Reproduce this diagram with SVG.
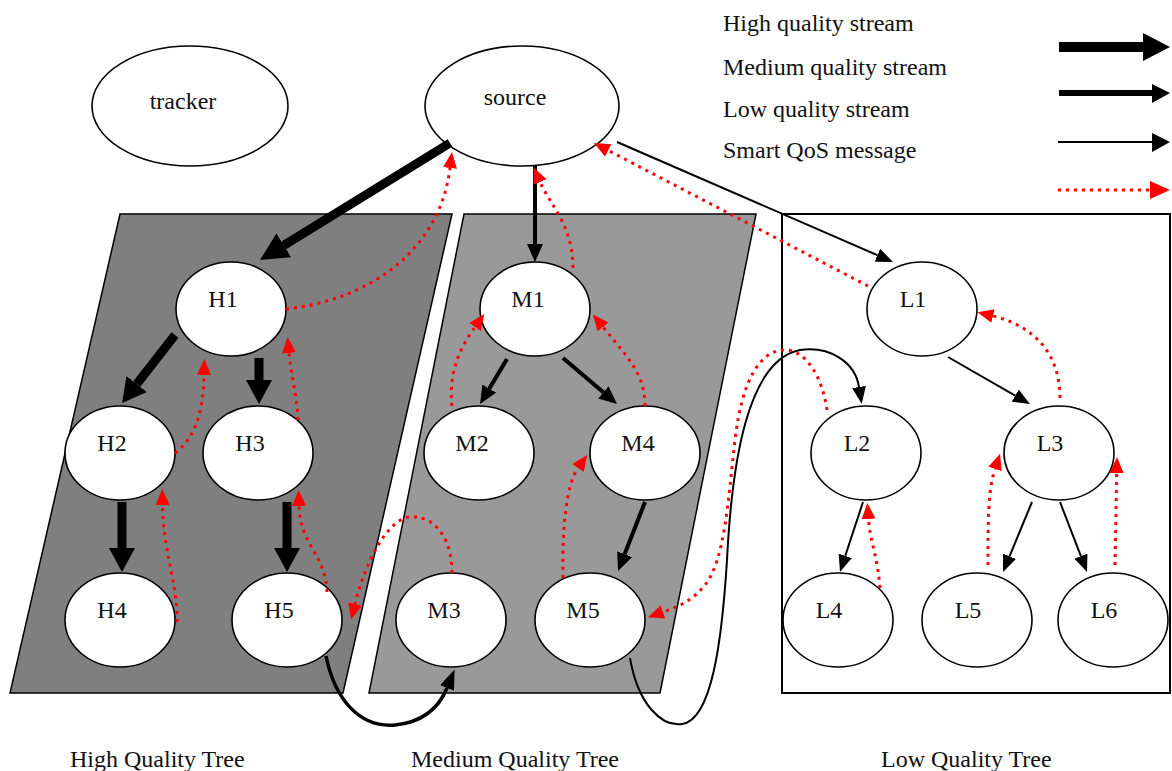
<svg xmlns="http://www.w3.org/2000/svg" width="1172" height="771" viewBox="0 0 1172 771">
<style>
text{font-family:"Liberation Serif","Times New Roman",serif;font-size:24px;fill:#111}
.node{fill:#fff;stroke:#000;stroke-width:1.6}
.hq{fill:none;stroke:#000;stroke-width:9}
.mq{fill:none;stroke:#000;stroke-width:4}
.lq{fill:none;stroke:#000;stroke-width:2}
.qos{fill:none;stroke:#f00;stroke-width:3;stroke-dasharray:3 5}
</style>
<defs>
<marker id="ahXL" markerUnits="userSpaceOnUse" markerWidth="28" markerHeight="28" refX="0" refY="14" orient="auto" viewBox="0 0 28 28"><path d="M0,0 L28,14 L0,28 z" fill="#000"/></marker>
<marker id="ahH" markerUnits="userSpaceOnUse" markerWidth="24" markerHeight="26" refX="0" refY="13" orient="auto" viewBox="0 0 24 26"><path d="M0,0 L24,13 L0,26 z" fill="#000"/></marker>
<marker id="ahC" markerUnits="userSpaceOnUse" markerWidth="20" markerHeight="15" refX="0" refY="7.5" orient="auto" viewBox="0 0 20 15"><path d="M0,0 L20,7.5 L0,15 z" fill="#000"/></marker>
<marker id="ahM" markerUnits="userSpaceOnUse" markerWidth="18" markerHeight="16" refX="0" refY="8" orient="auto" viewBox="0 0 18 16"><path d="M0,0 L18,8 L0,16 z" fill="#000"/></marker>
<marker id="ahL" markerUnits="userSpaceOnUse" markerWidth="17" markerHeight="14" refX="0" refY="7" orient="auto" viewBox="0 0 17 14"><path d="M0,0 L17,7 L0,14 z" fill="#000"/></marker>
<marker id="ahR" markerUnits="userSpaceOnUse" markerWidth="16" markerHeight="14" refX="0" refY="7" orient="auto" viewBox="0 0 16 14"><path d="M0,0 L16,7 L0,14 z" fill="#f00"/></marker>
</defs>
<rect width="1172" height="771" fill="#fff"/>

<g id="trees">
<polygon points="120,214 452,214 343,693 10,693" fill="#7f7f7f" stroke="#000" stroke-width="1.5"/>
<polygon points="464,214 756,214 660,693 369,693" fill="#999" stroke="#000" stroke-width="1.5"/>
<rect x="782" y="214" width="388" height="479" fill="none" stroke="#000" stroke-width="2"/>
<text x="70" y="767">High Quality Tree</text>
<text x="411" y="767">Medium Quality Tree</text>
<text x="881" y="767">Low Quality Tree</text>
</g>

<g id="legend">
<text x="723" y="31">High quality stream</text>
<text x="723" y="75">Medium quality stream</text>
<text x="723" y="117">Low quality stream</text>
<text x="723" y="158">Smart QoS message</text>
<line x1="1059" y1="47" x2="1144" y2="47" stroke="#000" stroke-width="10"/>
<polygon points="1143,33 1170,47 1143,61" fill="#000"/>
<line x1="1059" y1="93" x2="1153" y2="93" stroke="#000" stroke-width="6"/>
<polygon points="1152,84 1170,93 1152,103" fill="#000"/>
<line x1="1058" y1="142" x2="1153" y2="142" stroke="#000" stroke-width="2"/>
<polygon points="1152,133 1170,142 1152,152" fill="#000"/>
<line x1="1058" y1="190" x2="1150" y2="190" stroke="#f00" stroke-width="3" stroke-dasharray="3 5"/>
<polygon points="1150,181 1170,190 1150,199" fill="#f00"/>
</g>

<g id="tracker"><ellipse class="node" cx="190" cy="106" rx="98" ry="60"/><text x="183" y="109" text-anchor="middle">tracker</text></g>
<g id="source"><ellipse class="node" cx="522" cy="106" rx="97" ry="60"/><text x="515" y="105" text-anchor="middle">source</text></g>

<g id="H1"><ellipse class="node" cx="231" cy="309" rx="55" ry="47"/><text x="223" y="307" text-anchor="middle">H1</text></g>
<g id="H2"><ellipse class="node" cx="120" cy="453" rx="55" ry="47"/><text x="112" y="451" text-anchor="middle">H2</text></g>
<g id="H3"><ellipse class="node" cx="258" cy="453" rx="55" ry="47"/><text x="250" y="451" text-anchor="middle">H3</text></g>
<g id="H4"><ellipse class="node" cx="120" cy="620" rx="55" ry="47"/><text x="112" y="618" text-anchor="middle">H4</text></g>
<g id="H5"><ellipse class="node" cx="287" cy="620" rx="55" ry="47"/><text x="279" y="618" text-anchor="middle">H5</text></g>

<g id="M1"><ellipse class="node" cx="535" cy="309" rx="55" ry="47"/><text x="528" y="307" text-anchor="middle">M1</text></g>
<g id="M2"><ellipse class="node" cx="479" cy="453" rx="55" ry="47"/><text x="472" y="451" text-anchor="middle">M2</text></g>
<g id="M3"><ellipse class="node" cx="451" cy="620" rx="55" ry="47"/><text x="444" y="618" text-anchor="middle">M3</text></g>
<g id="M4"><ellipse class="node" cx="645" cy="453" rx="55" ry="47"/><text x="638" y="451" text-anchor="middle">M4</text></g>
<g id="M5"><ellipse class="node" cx="590" cy="620" rx="55" ry="47"/><text x="583" y="618" text-anchor="middle">M5</text></g>

<g id="L1"><ellipse class="node" cx="922" cy="309" rx="55" ry="47"/><text x="913" y="307" text-anchor="middle">L1</text></g>
<g id="L2"><ellipse class="node" cx="866" cy="453" rx="55" ry="47"/><text x="857" y="451" text-anchor="middle">L2</text></g>
<g id="L3"><ellipse class="node" cx="1059" cy="453" rx="55" ry="47"/><text x="1050" y="451" text-anchor="middle">L3</text></g>
<g id="L4"><ellipse class="node" cx="838" cy="620" rx="55" ry="47"/><text x="829" y="618" text-anchor="middle">L4</text></g>
<g id="L5"><ellipse class="node" cx="977" cy="620" rx="55" ry="47"/><text x="968" y="618" text-anchor="middle">L5</text></g>
<g id="L6"><ellipse class="node" cx="1113" cy="620" rx="55" ry="47"/><text x="1104" y="618" text-anchor="middle">L6</text></g>

<g id="connectors">
<!-- high quality -->
<path class="hq" d="M450,143 L283.8,245.3" marker-end="url(#ahXL)"/>
<path class="hq" d="M175,335 L136.8,384.1" marker-end="url(#ahH)"/>
<path class="hq" d="M259,358 L259,380" marker-end="url(#ahH)"/>
<path class="hq" d="M122,502 L122,548" marker-end="url(#ahH)"/>
<path class="hq" d="M287,502 L287,548" marker-end="url(#ahH)"/>
<path fill="none" stroke="#000" stroke-width="3.5" d="M326,656 C335,700 360,728 395,725 C425,722 440,705 447,688" marker-end="url(#ahC)"/>
<!-- medium quality -->
<path class="mq" d="M535,166 L535,244" marker-end="url(#ahM)"/>
<path class="mq" d="M507,359 L489.3,388.6" marker-end="url(#ahM)"/>
<path class="mq" d="M563,358 L603.3,392.3" marker-end="url(#ahM)"/>
<path class="mq" d="M645,502 L624.6,554.2" marker-end="url(#ahM)"/>
<!-- low quality -->
<path class="lq" d="M617,142 L877.4,255.2" marker-end="url(#ahL)"/>
<path class="lq" d="M948,357 L1015.2,395.6" marker-end="url(#ahL)"/>
<path class="lq" d="M863,502 L845.3,555.8" marker-end="url(#ahL)"/>
<path class="lq" d="M1032,502 L1009.5,556.3" marker-end="url(#ahL)"/>
<path class="lq" d="M1060,502 L1080.9,556.1" marker-end="url(#ahL)"/>
<path class="lq" d="M630,658 C638,705 662,727 682,724 C712,720 722,640 727,560 C732,460 748,360 800,350 C830,346 855,362 859,387" marker-end="url(#ahL)"/>
<!-- smart QoS messages -->
<path class="qos" d="M286,309 C370,300 440,250 450,168" marker-end="url(#ahR)"/>
<path class="qos" d="M175,453 C192,440 203,420 204,375" marker-end="url(#ahR)"/>
<path class="qos" d="M298,420 C297,395 291,375 289,353" marker-end="url(#ahR)"/>
<path class="qos" d="M177,622 C178,585 163,550 162.5,505" marker-end="url(#ahR)"/>
<path class="qos" d="M327,592 C326,555 300,545 299,506" marker-end="url(#ahR)"/>
<path class="qos" d="M452,573 C452,535 432,515 410,517 C388,519 366,560 355,604" marker-end="url(#ahR)"/>
<path class="qos" d="M452,406 C448,370 462,345 475,327" marker-end="url(#ahR)"/>
<path class="qos" d="M645,406 C645,375 630,360 603,327" marker-end="url(#ahR)"/>
<path class="qos" d="M573,268 C573,225 550,205 540,182" marker-end="url(#ahR)"/>
<path class="qos" d="M868,286 L608.2,150.4" marker-end="url(#ahR)"/>
<path class="qos" d="M563,578 C562,530 566,485 578,468" marker-end="url(#ahR)"/>
<path class="qos" d="M827,410 C822,375 805,350 785,350 C760,350 742,380 735,440 C728,500 725,560 705,585 C693,600 680,606 663,612" marker-end="url(#ahR)"/>
<path class="qos" d="M1060,398 C1060,350 1030,325 993,316" marker-end="url(#ahR)"/>
<path class="qos" d="M880,588 C878,560 870,540 868.5,519" marker-end="url(#ahR)"/>
<path class="qos" d="M988,565 C988,520 988,490 995,469" marker-end="url(#ahR)"/>
<path class="qos" d="M1115,565 L1116.7,473" marker-end="url(#ahR)"/>
</g>
</svg>
